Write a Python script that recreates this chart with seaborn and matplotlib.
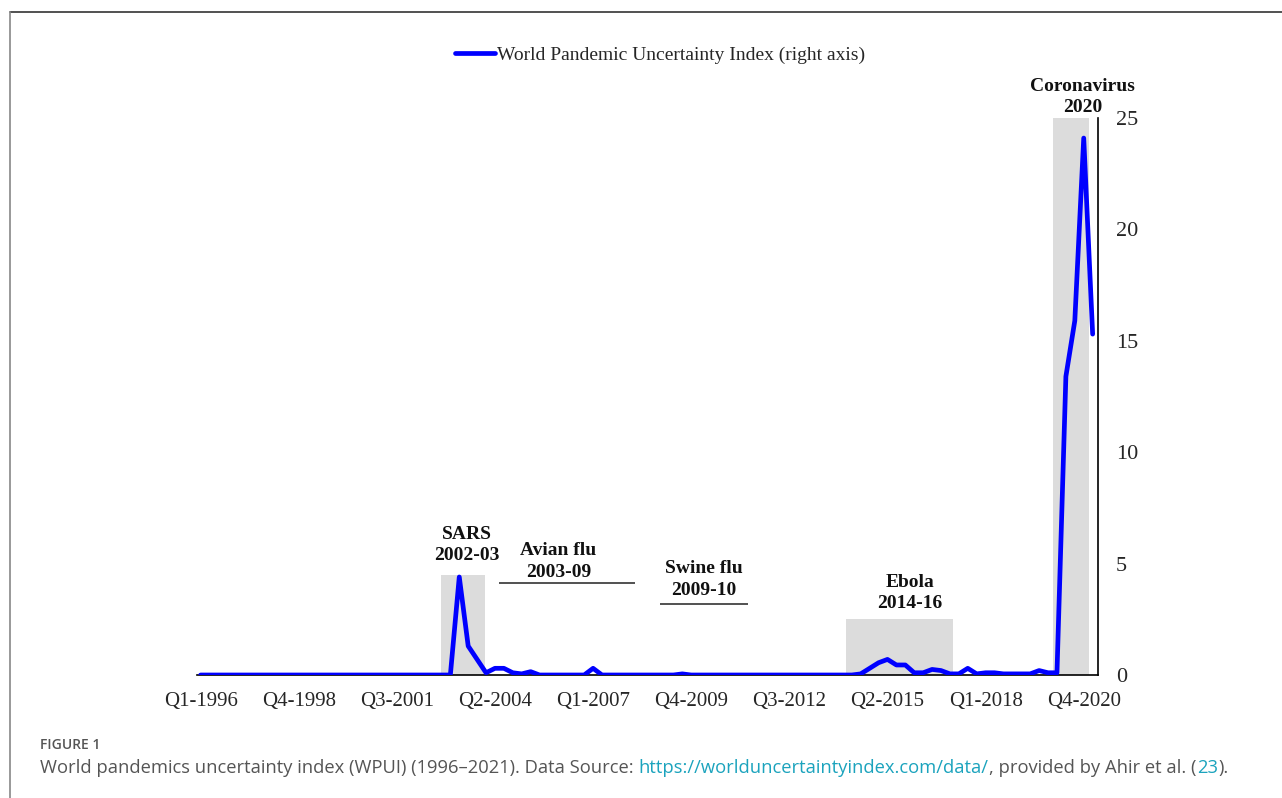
import matplotlib
matplotlib.use("Agg")
import matplotlib.pyplot as plt
import seaborn as sns
import numpy as np
import pandas as pd
from matplotlib.lines import Line2D

# ---------------- data ----------------
quarter_index = list(range(101))  # Q1-1996 ... Q1-2021
wpui = [0.0] * 28 + [
    0.0, 4.4, 1.3, 0.7, 0.1, 0.3, 0.3, 0.1, 0.05, 0.15,   # 28-37
    0.0, 0.0, 0.0, 0.0, 0.0, 0.0, 0.3, 0.0, 0.0, 0.0,     # 38-47
    0.0, 0.0, 0.0, 0.0, 0.0, 0.0, 0.05, 0.0, 0.0, 0.0,    # 48-57
    0.0, 0.0, 0.0, 0.0, 0.0, 0.0, 0.0, 0.0, 0.0, 0.0,     # 58-67
    0.0, 0.0, 0.0, 0.0, 0.0, 0.0, 0.05, 0.3, 0.55, 0.7,   # 68-77
    0.45, 0.45, 0.1, 0.1, 0.25, 0.2, 0.05, 0.05, 0.3, 0.05,  # 78-87
    0.1, 0.1, 0.05, 0.05, 0.05, 0.05, 0.2, 0.1, 0.1, 13.4,   # 88-97
    15.9, 24.1, 15.3,                                       # 98-100
]
tick_positions = [0, 11, 22, 33, 44, 55, 66, 77, 88, 99]
tick_labels = ["Q1-1996", "Q4-1998", "Q3-2001", "Q2-2004", "Q1-2007",
               "Q4-2009", "Q3-2012", "Q2-2015", "Q1-2018", "Q4-2020"]
y_ticks = [0, 5, 10, 15, 20, 25]

# shaded episodes (start, end, height in index units)
span_names = ["SARS", "Ebola", "Coronavirus"]
span_start = [26.9, 72.3, 95.5]
span_end = [31.9, 84.4, 99.6]
span_height = [4.5, 2.5, 25.0]

# bracket lines (start, end, level)
bracket_start = [33.5, 51.5]
bracket_end = [48.7, 61.4]
bracket_level = [4.13, 3.2]

# event labels
event_titles = ["SARS", "Avian flu", "Swine flu", "Ebola", "Coronavirus"]
event_years = ["2002-03", "2003-09", "2009-10", "2014-16", "2020"]
event_x = [29.9, 40.1, 56.4, 79.5, 98.9]
event_y = [5.15, 4.4, 3.6, 3.0, 25.25]

df = pd.DataFrame({"q": quarter_index, "wpui": wpui})

# ---------------- figure ----------------
sns.set_style("white")
plt.rcParams["font.family"] = ["Liberation Serif", "DejaVu Serif"]

fig = plt.figure(figsize=(12.82, 7.98), dpi=100)
ax = fig.add_axes([197 / 1282, 1 - 675 / 798, (1098 - 197) / 1282, (675 - 118) / 798])

# shaded spans
ax.bar(span_start, span_height, width=np.array(span_end) - np.array(span_start),
       align="edge", color="#dcdcdc", edgecolor="none", zorder=1)

# brackets
ax.hlines(bracket_level, bracket_start, bracket_end, color="#333333", lw=1.2, zorder=2)

# main line
sns.lineplot(data=df, x="q", y="wpui", ax=ax, color="#0000ff", lw=3.4,
             zorder=3, legend=False)

for title, year, x, y in zip(event_titles, event_years, event_x, event_y):
    ax.text(x, y, year, ha="center", va="baseline", fontsize=14,
            fontweight="bold", clip_on=False, color="#111111")
    ax.annotate(title, xy=(x, y), xytext=(0, 15.5), textcoords="offset points",
                ha="center", va="baseline", fontsize=14, fontweight="bold",
                annotation_clip=False, color="#111111")

ax.set_xlim(-0.4, 100.6)
ax.set_ylim(0, 25)
ax.set_xticks(tick_positions)
ax.set_xticklabels(tick_labels, fontsize=15)
ax.yaxis.tick_right()
ax.set_yticks(y_ticks)
ax.set_yticklabels([str(v) for v in y_ticks], fontsize=16)
ax.tick_params(axis="both", length=0)
ax.tick_params(axis="x", pad=12)
ax.tick_params(axis="y", pad=13)
ax.set_xlabel("")
ax.set_ylabel("")
for s in ["top", "left"]:
    ax.spines[s].set_visible(False)
for s in ["bottom", "right"]:
    ax.spines[s].set_color("black")
    ax.spines[s].set_linewidth(1.2)

handle = Line2D([], [], color="#0000ff", lw=3.4)
leg = fig.legend([handle], ["World Pandemic Uncertainty Index (right axis)"],
                 loc="center", bbox_to_anchor=(660 / 1282, 1 - 55 / 798),
                 frameon=False, fontsize=14, handlelength=2.1, handletextpad=0.1)

# frame lines of the figure image
fig.add_artist(Line2D([10 / 1282, 1], [1 - 11.5 / 798, 1 - 11.5 / 798],
                      transform=fig.transFigure, color="#333333", lw=1.2))
fig.add_artist(Line2D([10 / 1282, 10 / 1282], [0, 1 - 11.5 / 798],
                      transform=fig.transFigure, color="#888888", lw=1.2))

# caption
cap_font = ["Open Sans", "DejaVu Sans"]
fig.text(40 / 1282, 1 - 745 / 798, "FIGURE 1", fontsize=10, color="#555555",
         family=cap_font, fontweight="semibold", va="center")
pieces = [
    ("World pandemics uncertainty index (WPUI) (1996\u20132021). Data Source: ", "#555555"),
    ("https://worlduncertaintyindex.com/data/", "#1ba3bd"),
    (", provided by Ahir et al. (", "#555555"),
    ("23", "#1ba3bd"),
    (").", "#555555"),
]
fig.canvas.draw()
renderer = fig.canvas.get_renderer()
xpix = 40
for txt, col in pieces:
    t = fig.text(xpix / 1282, 1 - 768 / 798, txt, fontsize=13.2, color=col,
                 family=cap_font, va="center")
    bb = t.get_window_extent(renderer=renderer)
    xpix = bb.x1 + 0.5

fig.savefig("out.png", dpi=100)
